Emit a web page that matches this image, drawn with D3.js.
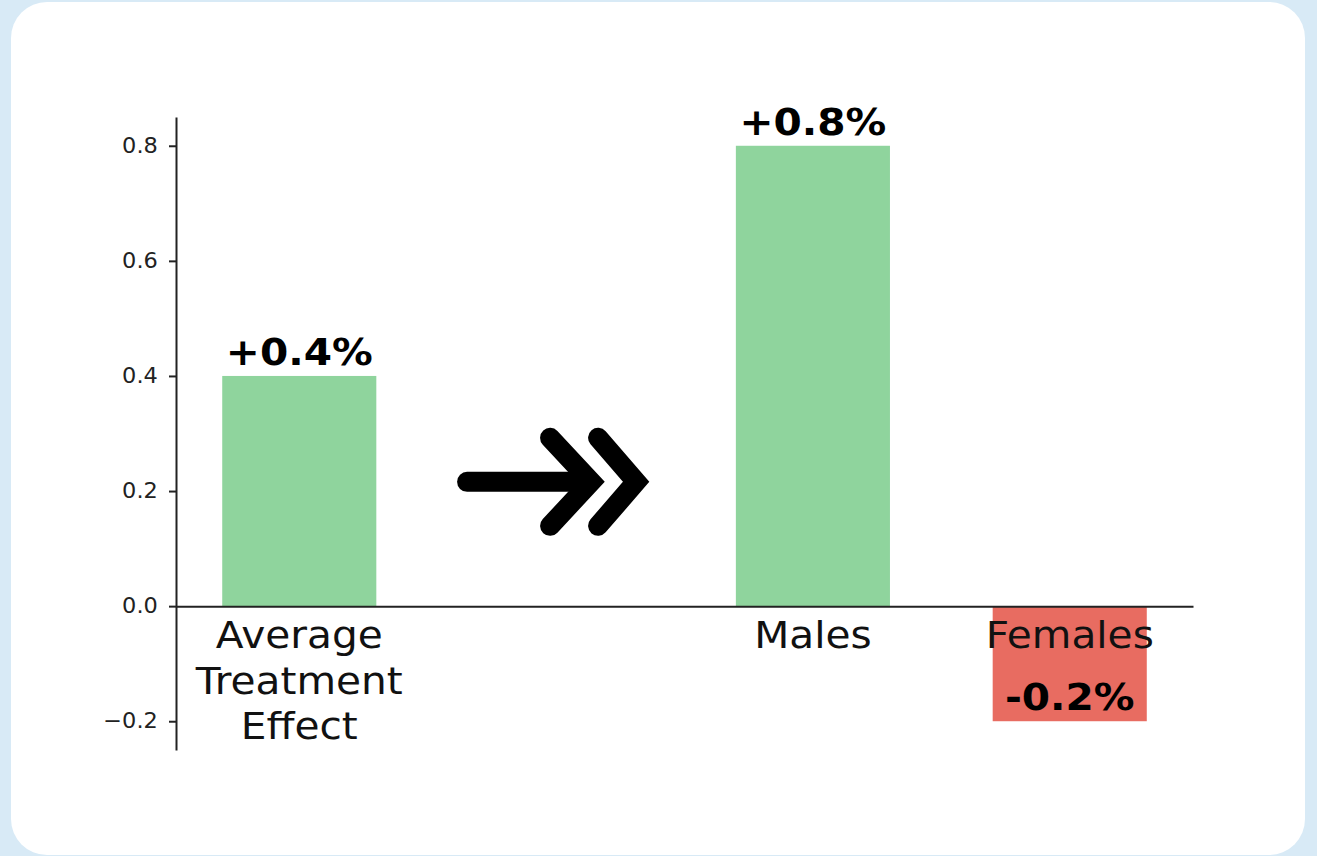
<!DOCTYPE html>
<html>
<head>
<meta charset="utf-8">
<script src="https://cdn.jsdelivr.net/npm/d3@7"></script>
<style>
  html, body { margin: 0; padding: 0; background: #d8eaf6; overflow: hidden; }
  svg { display: block; font-family: "DejaVu Sans", sans-serif; }
</style>
</head>
<body>
<svg id="chart" width="1317" height="856"></svg>
<script>
// Treatment effect overall and split by subgroup (percentage points)
const categories = ["Average\nTreatment\nEffect", "Males", "Females"];
const slots = [0, 2, 3];               // slot 1 is left empty for the arrow
const values = [0.4, 0.8, -0.2];
const valueLabels = ["+0.4%", "+0.8%", "-0.2%"];
const yTicks = [-0.2, 0.0, 0.2, 0.4, 0.6, 0.8];
const arrowSlot = 1;
const arrowLevel = 0.216;

const stretch = 1.07;                  // text is set slightly wide
const svg = d3.select("#chart");

// white card
svg.append("rect")
  .attr("x", 11).attr("y", 2)
  .attr("width", 1294).attr("height", 853)
  .attr("rx", 36).attr("ry", 36)
  .attr("fill", "#ffffff");

const x = d3.scaleLinear().domain([-0.48, 3.48]).range([176, 1193]);
const y = d3.scaleLinear().domain([-0.25, 0.85]).range([750, 117]);
const barW = 0.6;

const data = categories.map((c, i) => ({
  cat: c, slot: slots[i], value: values[i], label: valueLabels[i]
}));

// bars
svg.append("g").selectAll("rect")
  .data(data)
  .join("rect")
  .attr("x", d => x(d.slot - barW / 2))
  .attr("width", d => x(d.slot + barW / 2) - x(d.slot - barW / 2))
  .attr("y", d => y(Math.max(0, d.value)))
  .attr("height", d => Math.abs(y(d.value) - y(0)))
  .attr("fill", d => d.value >= 0 ? "#8fd49d" : "#e86c61");

// y axis
const yAxis = svg.append("g")
  .attr("transform", `translate(${x.range()[0]},0)`)
  .call(d3.axisLeft(y)
    .tickValues(yTicks)
    .tickSize(7)
    .tickSizeOuter(0)
    .tickPadding(10)
    .tickFormat(d => d3.format(".1f")(d).replace("-", "\u2212")));
yAxis.select(".domain").attr("stroke", "#222").attr("stroke-width", 2);
yAxis.selectAll(".tick line").attr("stroke", "#222").attr("stroke-width", 2);
yAxis.selectAll(".tick text")
  .style("font-family", "'DejaVu Sans'")
  .style("font-size", "21px")
  .attr("transform", `scale(${stretch},1)`)
  .attr("fill", "#222");

// x axis along zero
const xAxis = svg.append("g")
  .attr("transform", `translate(0,${y(0)})`)
  .call(d3.axisBottom(x)
    .tickValues(slots)
    .tickSize(0)
    .tickSizeOuter(0)
    .tickFormat(""));
xAxis.select(".domain").attr("stroke", "#222").attr("stroke-width", 2);

// category labels (multi-line)
const catLabels = svg.append("g")
  .selectAll("g")
  .data(data)
  .join("g")
  .attr("transform", d => `translate(${x(d.slot)},${y(0) + 42}) scale(${stretch},1)`)
  .append("text")
  .attr("text-anchor", "middle")
  .style("font-size", "38px")
  .attr("fill", "#111");
catLabels.selectAll("tspan")
  .data(d => d.cat.split("\n"))
  .join("tspan")
  .attr("x", 0)
  .attr("dy", (t, i) => i === 0 ? 0 : 45.5)
  .text(t => t);

// value labels
svg.append("g")
  .selectAll("g")
  .data(data)
  .join("g")
  .attr("transform", d => `translate(${x(d.slot)},${y(d.value) - 11}) scale(${stretch},1)`)
  .append("text")
  .attr("text-anchor", "middle")
  .style("font-size", "38px")
  .attr("font-weight", "bold")
  .attr("fill", "#000")
  .text(d => d.label);

// double-headed arrow in the empty slot
const ax = x(arrowSlot), ay = y(arrowLevel);
const arrow = svg.append("g")
  .attr("fill", "none")
  .attr("stroke", "#000")
  .attr("stroke-width", 20)
  .attr("stroke-linecap", "round")
  .attr("stroke-linejoin", "miter");
arrow.append("path").attr("d", `M${ax - 89},${ay} L${ax + 30},${ay}`);
arrow.append("path").attr("d", `M${ax - 6},${ay - 44} L${ax + 35},${ay} L${ax - 6},${ay + 44}`);
arrow.append("path").attr("d", `M${ax + 42},${ay - 44} L${ax + 80},${ay} L${ax + 42},${ay + 44}`);
</script>
</body>
</html>
